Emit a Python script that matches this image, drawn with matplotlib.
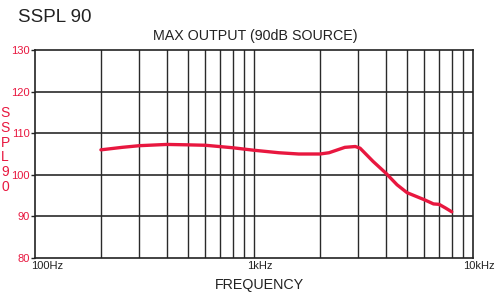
import matplotlib
matplotlib.use("Agg")
import matplotlib.pyplot as plt
import matplotlib.transforms as mtransforms
import numpy as np

plt.rcParams['font.family'] = ['Liberation Sans', 'DejaVu Sans']

freq_hz = [200, 250, 300, 400, 500, 600, 800, 1000, 1300, 1600, 2000, 2200, 2600, 2900, 3050, 3500, 4000, 4500, 5000, 6000, 6600, 7000, 7500, 8000]
sspl_db = [106.0, 106.6, 107.0, 107.3, 107.2, 107.1, 106.5, 105.9, 105.3, 105.0, 105.0, 105.3, 106.6, 106.8, 106.4, 103.2, 100.4, 97.6, 95.7, 94.0, 93.0, 92.9, 92.0, 91.1]

y_ticks = [80, 90, 100, 110, 120, 130]
x_tick_pos = [100, 1000, 10000]
x_tick_labels = ["100Hz", "1kHz", "10kHz"]
grid_freqs = [200, 300, 400, 500, 600, 700, 800, 900, 1000, 2000, 3000, 4000, 5000, 6000, 7000, 8000, 9000]

red = "#e8173f"

fig = plt.figure(figsize=(4.98, 2.95), dpi=100)
ax = fig.add_axes([35/498, 1-258/295, (473-35)/498, (258-50)/295])
ax.set_xscale('log')
ax.set_xlim(100, 10000)
ax.set_ylim(80, 130)

for f in grid_freqs:
    ax.axvline(f, color="#2a2a2a", lw=1.0, zorder=1)
for y in y_ticks[1:-1]:
    ax.axhline(y, color="#2a2a2a", lw=1.2, zorder=1)

ax.plot(freq_hz, sspl_db, color=red, lw=2.4, zorder=3, solid_capstyle='round')

ax.set_yticks(y_ticks)
ax.set_yticklabels([str(v) for v in y_ticks], color=red, fontsize=8)
ax.set_xticks(x_tick_pos)
ax.set_xticklabels(x_tick_labels, fontsize=8)
ax.xaxis.set_minor_locator(matplotlib.ticker.NullLocator())
ax.tick_params(axis='y', length=3, width=1, pad=1, colors="#222222", labelcolor=red)
ax.tick_params(axis='x', length=0, pad=2, labelcolor="#222222")
shifts = [12, 6, 6]
for lbl, dx in zip(ax.get_xticklabels(), shifts):
    lbl.set_transform(lbl.get_transform() + mtransforms.ScaledTranslation(dx/100, 0, fig.dpi_scale_trans))
for s in ax.spines.values():
    s.set_color("#222222")
    s.set_linewidth(1.2)

fig.text(18/498, 1-18/295, "SSPL 90", fontsize=13.5, color="#222222", va='center', ha='left')
fig.text(255/498, 1-36/295, "MAX OUTPUT (90dB SOURCE)", fontsize=10.3, color="#222222", va='center', ha='center')
fig.text(259/498, 1-285/295, "FREQUENCY", fontsize=10.3, color="#222222", va='center', ha='center')
fig.text(5/498, 1-150/295, "S\nS\nP\nL\n9\n0", fontsize=10, color=red, va='center', ha='center', linespacing=1.07)

fig.savefig("out.png", dpi=100)
